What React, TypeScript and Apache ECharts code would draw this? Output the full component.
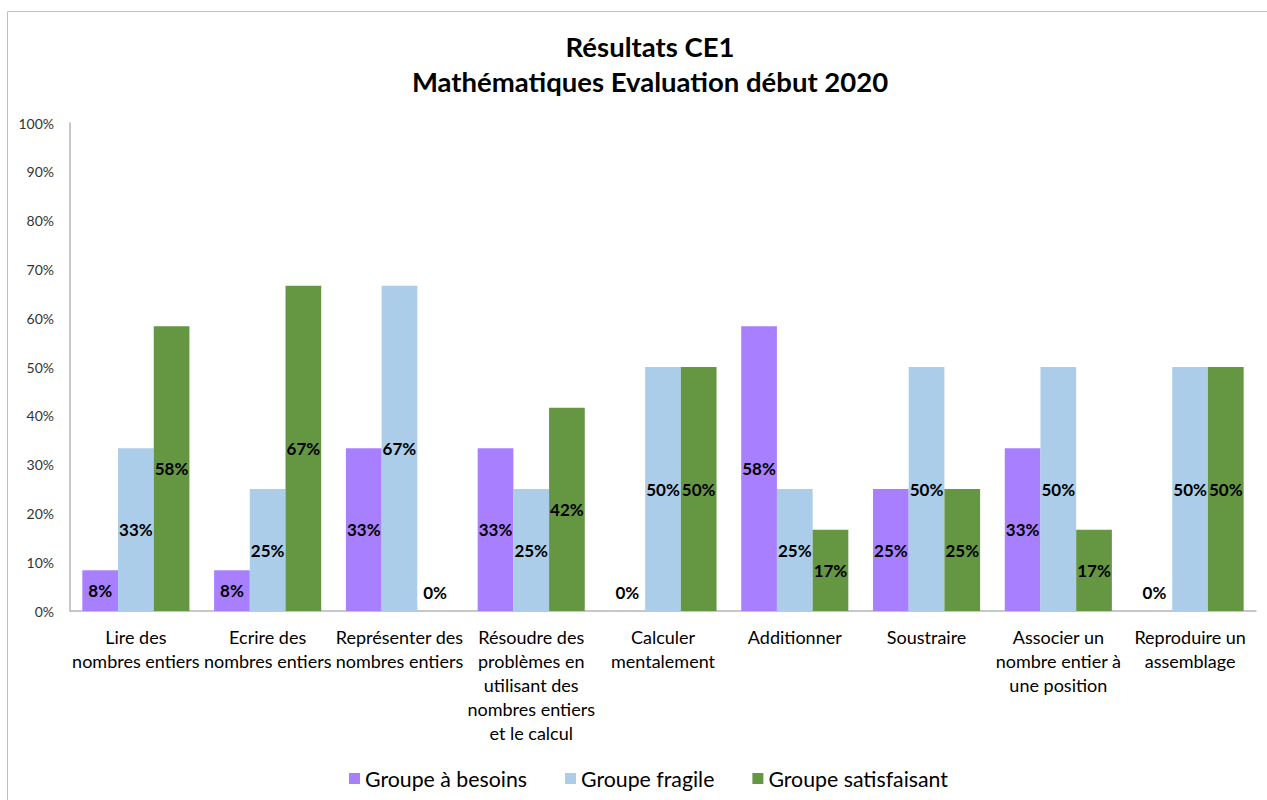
import React, { useEffect, useRef } from "react";
import * as echarts from "echarts";

const categories = [
  "Lire des\nnombres entiers",
  "Ecrire des\nnombres entiers",
  "Représenter des\nnombres entiers",
  "Résoudre des\nproblèmes en\nutilisant des\nnombres entiers\net le calcul",
  "Calculer\nmentalement",
  "Additionner",
  "Soustraire",
  "Associer un\nnombre entier à\nune position",
  "Reproduire un\nassemblage",
];

const seriesNames = ["Groupe à besoins", "Groupe fragile", "Groupe satisfaisant"];
const besoins = [8.33, 8.33, 33.33, 33.33, 0, 58.33, 25, 33.33, 0];
const fragile = [33.33, 25, 66.67, 25, 50, 25, 50, 50, 50];
const satisfaisant = [58.33, 66.67, 0, 41.67, 50, 16.67, 25, 16.67, 50];
const colors = ["#A880FF", "#ABCDEA", "#659743"];
const yTicks = { min: 0, max: 100, interval: 10 };

const FONT = "Lato, 'Open Sans', sans-serif";

function toItems(values: number[]) {
  return values.map((v) =>
    v === 0
      ? { value: v, label: { position: "top", distance: 10 } }
      : { value: v }
  );
}

export default function App() {
  const ref = useRef<HTMLDivElement>(null);
  useEffect(() => {
    document.body.style.margin = "0";
    const chart = echarts.init(ref.current!, null, { renderer: "svg" });
    const allSeries = [besoins, fragile, satisfaisant];
    chart.setOption({
      animation: false,
      textStyle: { fontFamily: FONT },
      title: {
        text: "Résultats CE1\nMathématiques Evaluation début 2020",
        left: 645,
        top: 24,
        textAlign: "center",
        textStyle: {
          fontFamily: FONT,
          fontSize: 27.5,
          fontWeight: "bold",
          color: "#000",
          lineHeight: 35,
        },
      },
      graphic: [
        {
          type: "rect",
          shape: { x: 7.5, y: 11.5, width: 1300, height: 820 },
          style: { fill: "none", stroke: "#c0c0c0", lineWidth: 1 },
          silent: true,
        },
      ],
      legend: {
        data: seriesNames,
        left: 344,
        top: 763,
        icon: "rect",
        itemWidth: 11,
        itemHeight: 11,
        itemGap: 38,
        textStyle: { fontFamily: FONT, fontSize: 21.3, color: "#000" },
      },
      grid: { left: 70, right: 11, top: 123, bottom: 189 },
      xAxis: {
        type: "category",
        data: categories,
        axisLine: { lineStyle: { color: "#b5b5b5", width: 1.5 } },
        axisTick: { show: false },
        axisLabel: {
          interval: 0,
          fontFamily: FONT,
          fontSize: 18,
          lineHeight: 24,
          color: "#000",
          margin: 14,
        },
      },
      yAxis: {
        type: "value",
        min: yTicks.min,
        max: yTicks.max,
        interval: yTicks.interval,
        splitLine: { show: false },
        axisLine: { show: true, lineStyle: { color: "#b5b5b5", width: 1.5 } },
        axisTick: { show: false },
        axisLabel: {
          formatter: "{value}%",
          fontFamily: FONT,
          fontSize: 14,
          color: "#333",
          margin: 16,
        },
      },
      series: allSeries.map((vals, i) => ({
        name: seriesNames[i],
        type: "bar",
        data: toItems(vals),
        barWidth: 35.7,
        barGap: "0%",
        itemStyle: { color: colors[i] },
        label: {
          show: true,
          position: "inside",
          formatter: (p: any) => Math.round(p.value) + "%",
          fontFamily: FONT,
          fontSize: 17,
          fontWeight: "bold",
          color: "#000",
        },
      })),
    });
    return () => chart.dispose();
  }, []);
  return <div ref={ref} style={{ width: 1267, height: 800 }} />;
}
